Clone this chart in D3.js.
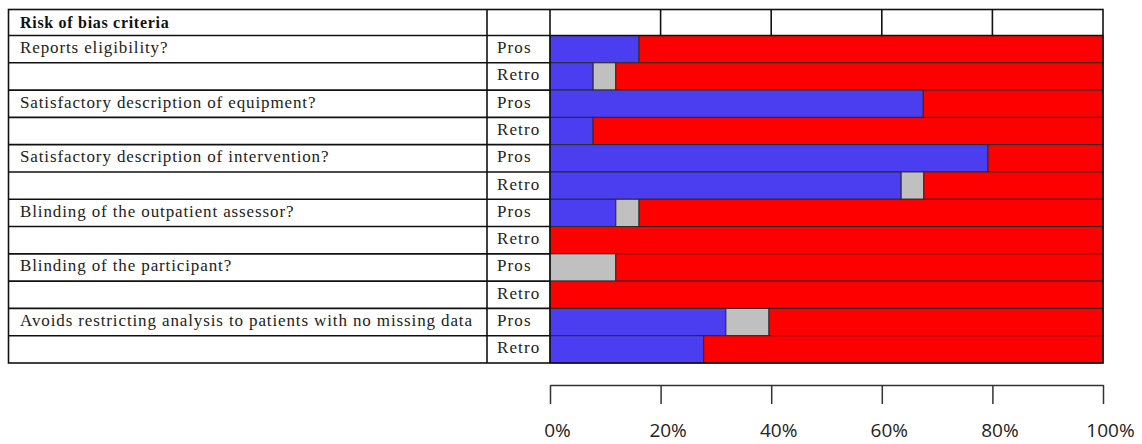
<!DOCTYPE html>
<html>
<head>
<meta charset="utf-8">
<script src="https://cdn.jsdelivr.net/npm/d3@7"></script>
<style>
  body { margin: 0; background: #fff; }
  svg text { font-family: "Liberation Serif", "DejaVu Serif", serif; }
</style>
</head>
<body>
<div id="chart"></div>
<script>
// criteria (each one has a Pros and a Retro row)
var criteria = [
    "Reports eligibility?",
    "Satisfactory description of equipment?",
    "Satisfactory description of intervention?",
    "Blinding of the outpatient assessor?",
    "Blinding of the participant?",
    "Avoids restricting analysis to patients with no missing data"
];
var designs = ["Pros", "Retro"];

// percent of studies per row, in order Pros, Retro, Pros, Retro ...
var lowRisk  = [16.1, 7.8, 67.5, 7.8, 79.2, 63.5, 11.9, 0, 0,    0, 31.8, 27.8];
var unclear  = [0,    4.1, 0,    0,   0,    4.1,  4.2,  0, 11.9, 0, 7.8,  0];
var highRisk = lowRisk.map(function (d, i) { return 100 - d - unclear[i]; });

var tickValues = [0, 20, 40, 60, 80, 100];

var W = 1142, H = 444;
var tableLeft = 8.5, tableTop = 9.5, headerBottom = 35.5, tableBottom = 363;
var designCol = 487, barLeft = 550, barRight = 1103;

var svg = d3.select('#chart')
    .append('svg')
    .attr('width', W)
    .attr('height', H);

var rows = [];
criteria.forEach(function (c, ci) {
    designs.forEach(function (d, di) {
        rows.push({ label: di == 0 ? c : "", design: d, idx: ci * 2 + di });
    });
});

var x = d3.scaleLinear().domain([0, 100]).range([barLeft, barRight]);
var y = d3.scaleBand()
    .domain(rows.map(function (r) { return r.idx; }))
    .range([headerBottom, tableBottom]);

// stacked segments
var segs = [];
rows.forEach(function (r) {
    var parts = [
        { v: lowRisk[r.idx], color: "#4a3ef0" },
        { v: unclear[r.idx], color: "#c0c0c0" },
        { v: highRisk[r.idx], color: "#ff0000" }
    ];
    var start = 0;
    parts.forEach(function (p) {
        if (p.v > 0) segs.push({ idx: r.idx, x0: start, x1: start + p.v, color: p.color });
        start += p.v;
    });
});

svg.append('g')
    .selectAll('rect')
    .data(segs)
    .enter()
    .append('rect')
    .attr('x', function (d) { return x(d.x0); })
    .attr('y', function (d) { return y(d.idx); })
    .attr('width', function (d) { return x(d.x1) - x(d.x0); })
    .attr('height', y.bandwidth())
    .attr('fill', function (d) { return d.color; })
    .attr('stroke', '#2a2a2a')
    .attr('stroke-width', 1);

// table grid
var grid = svg.append('g')
    .attr('stroke', '#111')
    .attr('stroke-width', 1.6)
    .attr('fill', 'none');

grid.append('rect')
    .attr('x', tableLeft)
    .attr('y', tableTop)
    .attr('width', barRight - tableLeft)
    .attr('height', tableBottom - tableTop);

grid.selectAll('line.row')
    .data(rows)
    .enter()
    .append('line')
    .attr('class', 'row')
    .attr('x1', tableLeft)
    .attr('x2', barLeft)
    .attr('y1', function (d) { return y(d.idx); })
    .attr('y2', function (d) { return y(d.idx); });

grid.append('line')
    .attr('x1', barLeft).attr('x2', barRight)
    .attr('y1', headerBottom).attr('y2', headerBottom);

[designCol, barLeft].forEach(function (cx) {
    grid.append('line')
        .attr('x1', cx).attr('x2', cx)
        .attr('y1', tableTop).attr('y2', tableBottom);
});

grid.selectAll('line.hdr')
    .data(tickValues.slice(1, -1))
    .enter()
    .append('line')
    .attr('class', 'hdr')
    .attr('x1', function (d) { return x(d); })
    .attr('x2', function (d) { return x(d); })
    .attr('y1', tableTop)
    .attr('y2', headerBottom);

// texts
svg.append('text')
    .attr('x', 20)
    .attr('y', (tableTop + headerBottom) / 2 + 5)
    .attr('font-size', 16)
    .attr('font-weight', 'bold')
    .attr('letter-spacing', 0.7)
    .attr('fill', '#111')
    .text("Risk of bias criteria");

svg.append('g')
    .selectAll('text')
    .data(rows)
    .enter()
    .append('text')
    .attr('x', 20)
    .attr('y', function (d) { return y(d.idx) + y.bandwidth() / 2 + 4; })
    .attr('font-size', 17)
    .attr('letter-spacing', 0.88)
    .attr('fill', '#222')
    .text(function (d) { return d.label; });

svg.append('g')
    .selectAll('text')
    .data(rows)
    .enter()
    .append('text')
    .attr('x', 497)
    .attr('y', function (d) { return y(d.idx) + y.bandwidth() / 2 + 4; })
    .attr('font-size', 17)
    .attr('letter-spacing', 1.1)
    .attr('fill', '#222')
    .text(function (d) { return d.design; });

// bottom axis
var axis = d3.axisBottom(x)
    .tickValues(tickValues)
    .tickSize(19)
    .tickSizeOuter(0)
    .tickFormat(function (d) { return d + "%"; });

var ax = svg.append('g')
    .attr('transform', 'translate(0,385)')
    .call(axis);

ax.select('.domain').attr('stroke', '#333').attr('stroke-width', 1.5);
ax.selectAll('.tick line').attr('stroke', '#333').attr('stroke-width', 1.5);
ax.selectAll('.tick text')
    .attr('y', 52)
    .attr('dy', 0)
    .attr('dx', 7)
    .attr('fill', '#222')
    .style('font-family', '"Open Sans", sans-serif')
    .style('font-size', '19px');
</script>
</body>
</html>
